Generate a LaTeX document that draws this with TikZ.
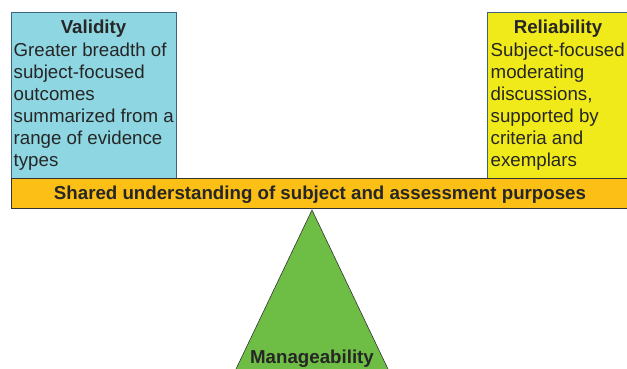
\documentclass[tikz,border=0pt]{standalone}
\usepackage{fontspec}
\setmainfont{Liberation Sans}
\definecolor{valblue}{RGB}{142,214,226}
\definecolor{relyellow}{RGB}{240,234,26}
\definecolor{barorange}{RGB}{251,191,22}
\definecolor{mangreen}{RGB}{110,190,70}
\definecolor{boxedge}{RGB}{60,100,130}
\begin{document}
\begin{tikzpicture}[x=1pt,y=-1pt,
  panel/.style={draw=boxedge, line width=0.8pt, anchor=north west, inner sep=0pt},
  bodytext/.style={anchor=north west, align=left, inner sep=0pt, text=black!85, font=\fontsize{18.7}{22}\selectfont},
  titletext/.style={anchor=base, inner sep=0pt, text=black!85, font=\fontsize{18.7}{22}\selectfont\bfseries},
  bartext/.style={anchor=base, inner sep=0pt, text=black!85, font=\fontsize{18.7}{22}\selectfont\bfseries}]
\useasboundingbox (0,0) rectangle (627,369);
% boxes
\node[panel, fill=valblue, minimum width=165pt, minimum height=166pt] (val) at (11,12) {};
\node[panel, fill=relyellow, minimum width=141pt, minimum height=166pt] (rel) at (487,12) {};
\node[panel, draw=black!80, fill=barorange, minimum width=617pt, minimum height=30pt] (bar) at (11,178) {};
% texts
\node[titletext] (valt) at (93.5,34) {Validity};
\node[bodytext] (valb) at (13.5,42.4) {Greater breadth of\\subject-focused\\outcomes\\summarized from a\\range of evidence\\types};
\node[titletext] (relt) at (558,34) {Reliability};
\node[bodytext] (relb) at (490.5,42.4) {Subject-focused\\moderating\\discussions,\\supported by\\criteria and\\exemplars};
\node[bartext] (bart) at (320,199) {Shared understanding of subject and assessment purposes};
% triangle
\coordinate (apex) at (312,210);
\begin{scope}
\clip (0,0) rectangle (627,369);
\draw[fill=mangreen, draw=black!80, line width=0.6pt] (apex) -- (234.6,372) -- (389.4,372) -- cycle;
\end{scope}
\node[bartext] (man) at (312,363) {Manageability};
\end{tikzpicture}
\end{document}
